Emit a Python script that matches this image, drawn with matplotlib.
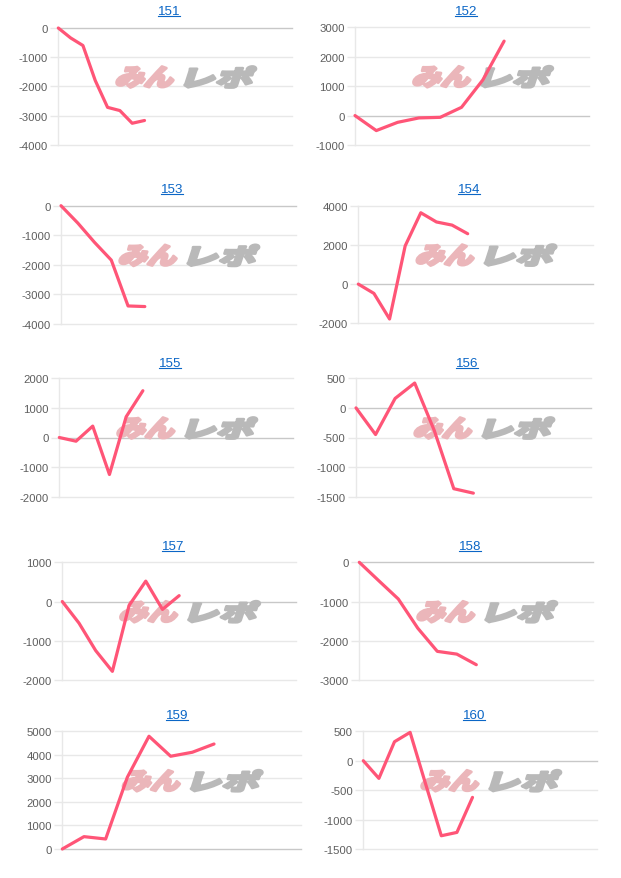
import math
import matplotlib
matplotlib.use('Agg')
import matplotlib.pyplot as plt
from matplotlib.textpath import TextPath
from matplotlib.font_manager import FontProperties
from matplotlib.patches import PathPatch
from matplotlib.transforms import Affine2D, IdentityTransform
from matplotlib.lines import Line2D

W, H, DPI = 621, 879, 100

# ---------------- data ----------------
titles = ['151', '152', '153', '154', '155', '156', '157', '158', '159', '160']
n_slots = [20, 12, 15, 16, 15, 13, 15, 13, 12, 16]

s151 = [0, -340, -600, -1800, -2720, -2830, -3265, -3170]
s152 = [0, -510, -230, -80, -60, 280, 1210, 2530]
s153 = [0, -585, -1240, -1840, -3390, -3410]
s154 = [0, -475, -1780, 1950, 3640, 3170, 3010, 2570]
s155 = [0, -125, 385, -1250, 700, 1580]
s156 = [0, -450, 160, 420, -380, -1365, -1440]
s157 = [0, -550, -1250, -1780, -100, 520, -200, 150]
s158 = [0, -470, -935, -1680, -2270, -2340, -2610]
s159 = [0, 525, 425, 3045, 4790, 3940, 4110, 4460]
s160 = [0, -300, 323, 482, -400, -1275, -1218, -623]
series = [s151, s152, s153, s154, s155, s156, s157, s158, s159, s160]

t151 = [-4000, -3000, -2000, -1000, 0]
t152 = [-1000, 0, 1000, 2000, 3000]
t153 = [-4000, -3000, -2000, -1000, 0]
t154 = [-2000, 0, 2000, 4000]
t155 = [-2000, -1000, 0, 1000, 2000]
t156 = [-1500, -1000, -500, 0, 500]
t157 = [-2000, -1000, 0, 1000]
t158 = [-3000, -2000, -1000, 0]
t159 = [0, 1000, 2000, 3000, 4000, 5000]
t160 = [-1500, -1000, -500, 0, 500]
yticks = [t151, t152, t153, t154, t155, t156, t157, t158, t159, t160]

# ---------------- layout (pixels: left, top, right, bottom) ----------------
rects = [
    (58.3, 29.0, 292.3, 145.7), (355.0, 28.3, 589.3, 146.0),
    (61.0, 206.7, 295.7, 325.0), (358.3, 206.7, 592.7, 324.3),
    (59.3, 379.3, 293.3, 497.7), (356.0, 379.3, 590.7, 497.7),
    (62.3, 563.3, 296.0, 681.0), (359.3, 563.3, 593.3, 681.0),
    (62.3, 732.3, 300.7, 850.0), (363.3, 732.3, 597.3, 850.0),
]
title_pos = [(169, 12), (466, 12), (172, 190), (469, 190), (170, 364),
             (467, 364), (173, 547), (470, 547), (177, 716), (474, 716)]

LINE_C = '#ff5577'
GRID_C = '#e8e8e8'
ZERO_C = '#c8c8c8'
TICK_C = '#5e5e5e'
LINK_C = '#0b66c6'

fig = plt.figure(figsize=(W / DPI, H / DPI), dpi=DPI)
fig.patch.set_facecolor('white')

wm_fp = FontProperties(family='Noto Sans CJK JP', weight='black')


def glyphs(ax, text, color, left, bottom, tw, th, skew=18):
    path = TextPath((0, 0), text, size=100, prop=wm_fp)
    bb = path.get_extents()
    sk = math.tan(math.radians(skew)) * th
    tr = (Affine2D().translate(-bb.x0, -bb.y0)
          .scale((tw - sk) / bb.width, th / bb.height)
          .skew_deg(skew, 0)
          .translate(left, bottom))
    p = PathPatch(path, transform=tr, facecolor=color, edgecolor=color,
                  lw=2.0, joinstyle='round', zorder=2, clip_on=False)
    ax.add_artist(p)


title_texts = []
for i in range(10):
    l, t, r, b = rects[i]
    ax = fig.add_axes([l / W, 1 - b / H, (r - l) / W, (b - t) / H])
    ax.set_facecolor('none')
    n = n_slots[i]
    ticks = yticks[i]
    ax.set_xlim(0, n - 1)
    ax.set_ylim(ticks[0], ticks[-1])
    for tv in ticks:
        c = ZERO_C if tv == 0 else GRID_C
        ax.axhline(tv, color=c, lw=1.0, zorder=1, clip_on=False)
    for sp in ['top', 'right', 'bottom']:
        ax.spines[sp].set_visible(False)
    ax.spines['left'].set_color(GRID_C)
    ax.spines['left'].set_linewidth(1.0)
    ax.set_xticks([])
    ax.set_yticks(ticks)
    ax.set_yticklabels([str(v) for v in ticks])
    ax.tick_params(axis='y', length=6, width=1.0, color=GRID_C, pad=1.5,
                   labelsize=8.2, labelcolor=TICK_C)
    for lab in ax.get_yticklabels():
        lab.set_fontfamily('Liberation Sans')

    ys = series[i]
    ax.plot(range(len(ys)), ys, color=LINE_C, lw=2.3, zorder=3,
            solid_joinstyle='round', solid_capstyle='round', clip_on=False)

    # watermark
    cx = l + 0.545 * (r - l)
    cy = t + 0.42 * (b - t)
    total_w, gap = 142, 6
    pw, gw, th = 63, 73, 21
    left0 = cx - total_w / 2
    bottom = H - (cy + th / 2)
    glyphs(ax, 'みん', '#ebb6ba', left0, bottom, pw, th)
    glyphs(ax, 'レポ', '#b9b9b9', left0 + pw + gap, bottom, gw, th)

    tx, ty = title_pos[i]
    tt = fig.text(tx / W, 1 - ty / H, titles[i], ha='center', va='center',
                  fontsize=9.6, color=LINK_C, family='Liberation Sans')
    title_texts.append(tt)

fig.canvas.draw()
for tt in title_texts:
    bb = tt.get_window_extent()
    y = bb.y0 + 1
    fig.add_artist(Line2D([bb.x0, bb.x1], [y, y], transform=IdentityTransform(),
                          color=LINK_C, lw=0.8))

fig.savefig('out.png', dpi=DPI, facecolor='white')
